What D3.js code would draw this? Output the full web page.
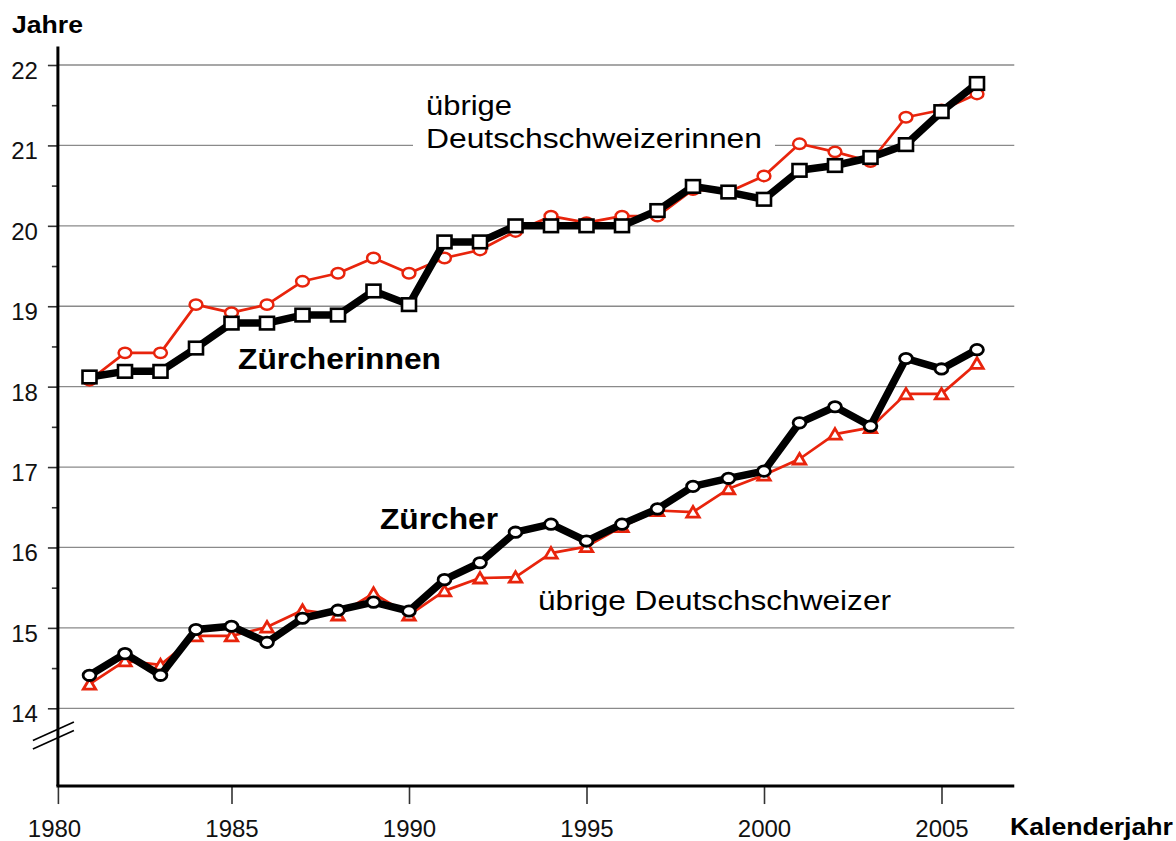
<!DOCTYPE html>
<html>
<head>
<meta charset="utf-8">
<script src="https://cdn.jsdelivr.net/npm/d3@7"></script>
<style>
  body { margin: 0; background: #fff; }
  svg { display: block; font-family: "Liberation Sans", Arial, Helvetica, sans-serif; }
</style>
</head>
<body>
<svg id="chart" width="1176" height="841"></svg>
<script>
// chart data
const years = [1981, 1982, 1983, 1984, 1985, 1986, 1987, 1988, 1989, 1990, 1991, 1992, 1993,
               1994, 1995, 1996, 1997, 1998, 1999, 2000, 2001, 2002, 2003, 2004, 2005, 2006];

const zuercherinnen = [18.12, 18.19, 18.19, 18.48, 18.79, 18.79, 18.89, 18.89, 19.19, 19.02, 19.80, 19.80, 20.00,
                       20.00, 20.00, 20.00, 20.19, 20.49, 20.42, 20.33, 20.69, 20.75, 20.85, 21.01, 21.42, 21.77];
const uebrigeFrauen = [18.08, 18.42, 18.42, 19.02, 18.92, 19.02, 19.31, 19.41, 19.60, 19.41, 19.60, 19.70, 19.93,
                       20.12, 20.04, 20.12, 20.12, 20.45, 20.42, 20.62, 21.02, 20.92, 20.80, 21.35, 21.44, 21.64];
const zuercher = [14.41, 14.68, 14.41, 14.98, 15.02, 14.82, 15.12, 15.22, 15.32, 15.21, 15.60, 15.81, 16.19,
                  16.29, 16.08, 16.29, 16.48, 16.76, 16.86, 16.95, 17.55, 17.75, 17.51, 18.35, 18.22, 18.46];
const uebrigeMaenner = [14.30, 14.59, 14.54, 14.90, 14.90, 15.01, 15.22, 15.16, 15.43, 15.16, 15.46, 15.62, 15.63,
                        15.93, 16.01, 16.26, 16.46, 16.44, 16.73, 16.90, 17.10, 17.41, 17.49, 17.91, 17.91, 18.29];

const xTicks = [1980, 1985, 1990, 1995, 2000, 2005];
const yTicks = [14, 15, 16, 17, 18, 19, 20, 21, 22];
const yMinorTicks = [14.5, 15.5, 16.5, 17.5, 18.5, 19.5, 20.5, 21.5];

const RED = "#e8240c";

const svg = d3.select("#chart");

const x = d3.scaleLinear().domain([1980, 2007]).range([54, 1012.5]);
const y = d3.scaleLinear().domain([13, 22]).range([788.7, 65]);

const axisX = x(1980.11);   // vertical axis line
const axisY = y(13.033);    // horizontal axis line
const rightX = x(2007.05);

// gridlines
svg.append("g").attr("class", "grid")
  .selectAll("line").data(yTicks).enter().append("line")
  .attr("x1", axisX).attr("x2", rightX)
  .attr("y1", d => y(d)).attr("y2", d => y(d))
  .attr("stroke", "#8a8a8a").attr("stroke-width", 1.3);

// y axis
const yAxis = svg.append("g").attr("transform", `translate(${axisX},0)`)
  .call(d3.axisLeft(y).tickValues(yTicks).tickSize(10).tickPadding(10).tickFormat(d3.format("d")));
yAxis.select(".domain").remove();
yAxis.selectAll(".tick line").attr("stroke", "#333").attr("stroke-width", 1.6);
yAxis.selectAll(".tick text")
  .attr("dy", "0.73em").attr("y", -4)
  .style("font-size", "24px").attr("fill", "#111");

svg.append("g").attr("transform", `translate(${axisX},0)`)
  .call(d3.axisLeft(y).tickValues(yMinorTicks).tickSize(6).tickFormat(""))
  .call(g => g.select(".domain").remove())
  .selectAll(".tick line").attr("stroke", "#333").attr("stroke-width", 1.6);

// x axis
const xAxis = svg.append("g").attr("transform", `translate(0,${axisY})`)
  .call(d3.axisBottom(x).tickValues(xTicks).tickSize(18).tickPadding(16).tickFormat(d3.format("d")));
xAxis.select(".domain").remove();
xAxis.selectAll(".tick line").attr("stroke", "#333").attr("stroke-width", 1.6);
xAxis.selectAll(".tick text").style("font-size", "24px").attr("fill", "#111");
// first tick sits on the vertical axis
xAxis.selectAll(".tick").filter(d => d === 1980).select("line")
  .attr("transform", `translate(${axisX - x(1980)},0)`);

svg.append("line")
  .attr("x1", axisX).attr("x2", axisX).attr("y1", y(22.23)).attr("y2", axisY)
  .attr("stroke", "#000").attr("stroke-width", 3);
svg.append("line")
  .attr("x1", axisX - 1.5).attr("x2", rightX).attr("y1", axisY).attr("y2", axisY)
  .attr("stroke", "#000").attr("stroke-width", 3);

// axis break
[0, 8.5].forEach(off => {
  svg.append("line")
    .attr("x1", axisX - 25).attr("y1", y(13.6) + off)
    .attr("x2", axisX + 16).attr("y2", y(13.83) + off)
    .attr("stroke", "#000").attr("stroke-width", 1.6);
});

// axis titles
svg.append("text").attr("x", 12).attr("y", 33)
  .attr("textLength", 71).attr("lengthAdjust", "spacingAndGlyphs")
  .style("font-size", "24px").style("font-weight", "bold").text("Jahre");
svg.append("text").attr("x", 1010).attr("y", 835)
  .attr("textLength", 163).attr("lengthAdjust", "spacingAndGlyphs")
  .style("font-size", "24px").style("font-weight", "bold").text("Kalenderjahr");

// label box for übrige Deutschschweizerinnen (interrupts gridline)
svg.append("rect").attr("x", 413).attr("y", 88).attr("width", 362).attr("height", 68).attr("fill", "#fff");

const line = d3.line().x((d, i) => x(years[i])).y(d => y(d));

function drawSeries(values, opts) {
  const g = svg.append("g");
  g.append("path").datum(values)
    .attr("d", line)
    .attr("fill", "none")
    .attr("stroke", opts.color)
    .attr("stroke-width", opts.width)
    .attr("stroke-linejoin", "round");

  const marks = g.selectAll(".mark").data(values).enter();
  if (opts.shape === "square") {
    marks.append("rect")
      .attr("x", (d, i) => x(years[i]) - 7).attr("y", d => y(d) - 6.3)
      .attr("width", 14).attr("height", 12.6)
      .attr("fill", "#fff").attr("stroke", opts.color).attr("stroke-width", 2.6);
  } else if (opts.shape === "circle") {
    marks.append("ellipse")
      .attr("cx", (d, i) => x(years[i])).attr("cy", d => y(d))
      .attr("rx", 6.4).attr("ry", 5.2)
      .attr("fill", "#fff").attr("stroke", opts.color).attr("stroke-width", opts.markStroke);
  } else {
    marks.append("path")
      .attr("transform", (d, i) => `translate(${x(years[i])},${y(d)})`)
      .attr("d", "M0,-5.5L6.2,5L-6.2,5Z")
      .attr("fill", "#fff").attr("stroke", opts.color).attr("stroke-width", 2.8)
      .attr("stroke-linejoin", "miter");
  }
}

drawSeries(uebrigeFrauen, { color: RED, width: 2.7, shape: "circle", markStroke: 2.5 });
drawSeries(zuercherinnen, { color: "#000", width: 7.5, shape: "square" });
drawSeries(uebrigeMaenner, { color: RED, width: 2.7, shape: "triangle" });
drawSeries(zuercher, { color: "#000", width: 7.5, shape: "circle", markStroke: 2.8 });

// series labels
svg.append("text").attr("x", 426).attr("y", 115)
  .attr("textLength", 86).attr("lengthAdjust", "spacingAndGlyphs")
  .style("font-size", "27px").text("übrige");
svg.append("text").attr("x", 426).attr("y", 148)
  .attr("textLength", 336).attr("lengthAdjust", "spacingAndGlyphs")
  .style("font-size", "27px").text("Deutschschweizerinnen");
svg.append("text").attr("x", 538).attr("y", 610)
  .attr("textLength", 353).attr("lengthAdjust", "spacingAndGlyphs")
  .style("font-size", "27px").text("übrige Deutschschweizer");
svg.append("text").attr("x", 238).attr("y", 369)
  .attr("textLength", 203).attr("lengthAdjust", "spacingAndGlyphs")
  .style("font-size", "30px").style("font-weight", "bold").text("Zürcherinnen");
svg.append("text").attr("x", 380).attr("y", 529)
  .attr("textLength", 118).attr("lengthAdjust", "spacingAndGlyphs")
  .style("font-size", "30px").style("font-weight", "bold").text("Zürcher");
</script>
</body>
</html>
